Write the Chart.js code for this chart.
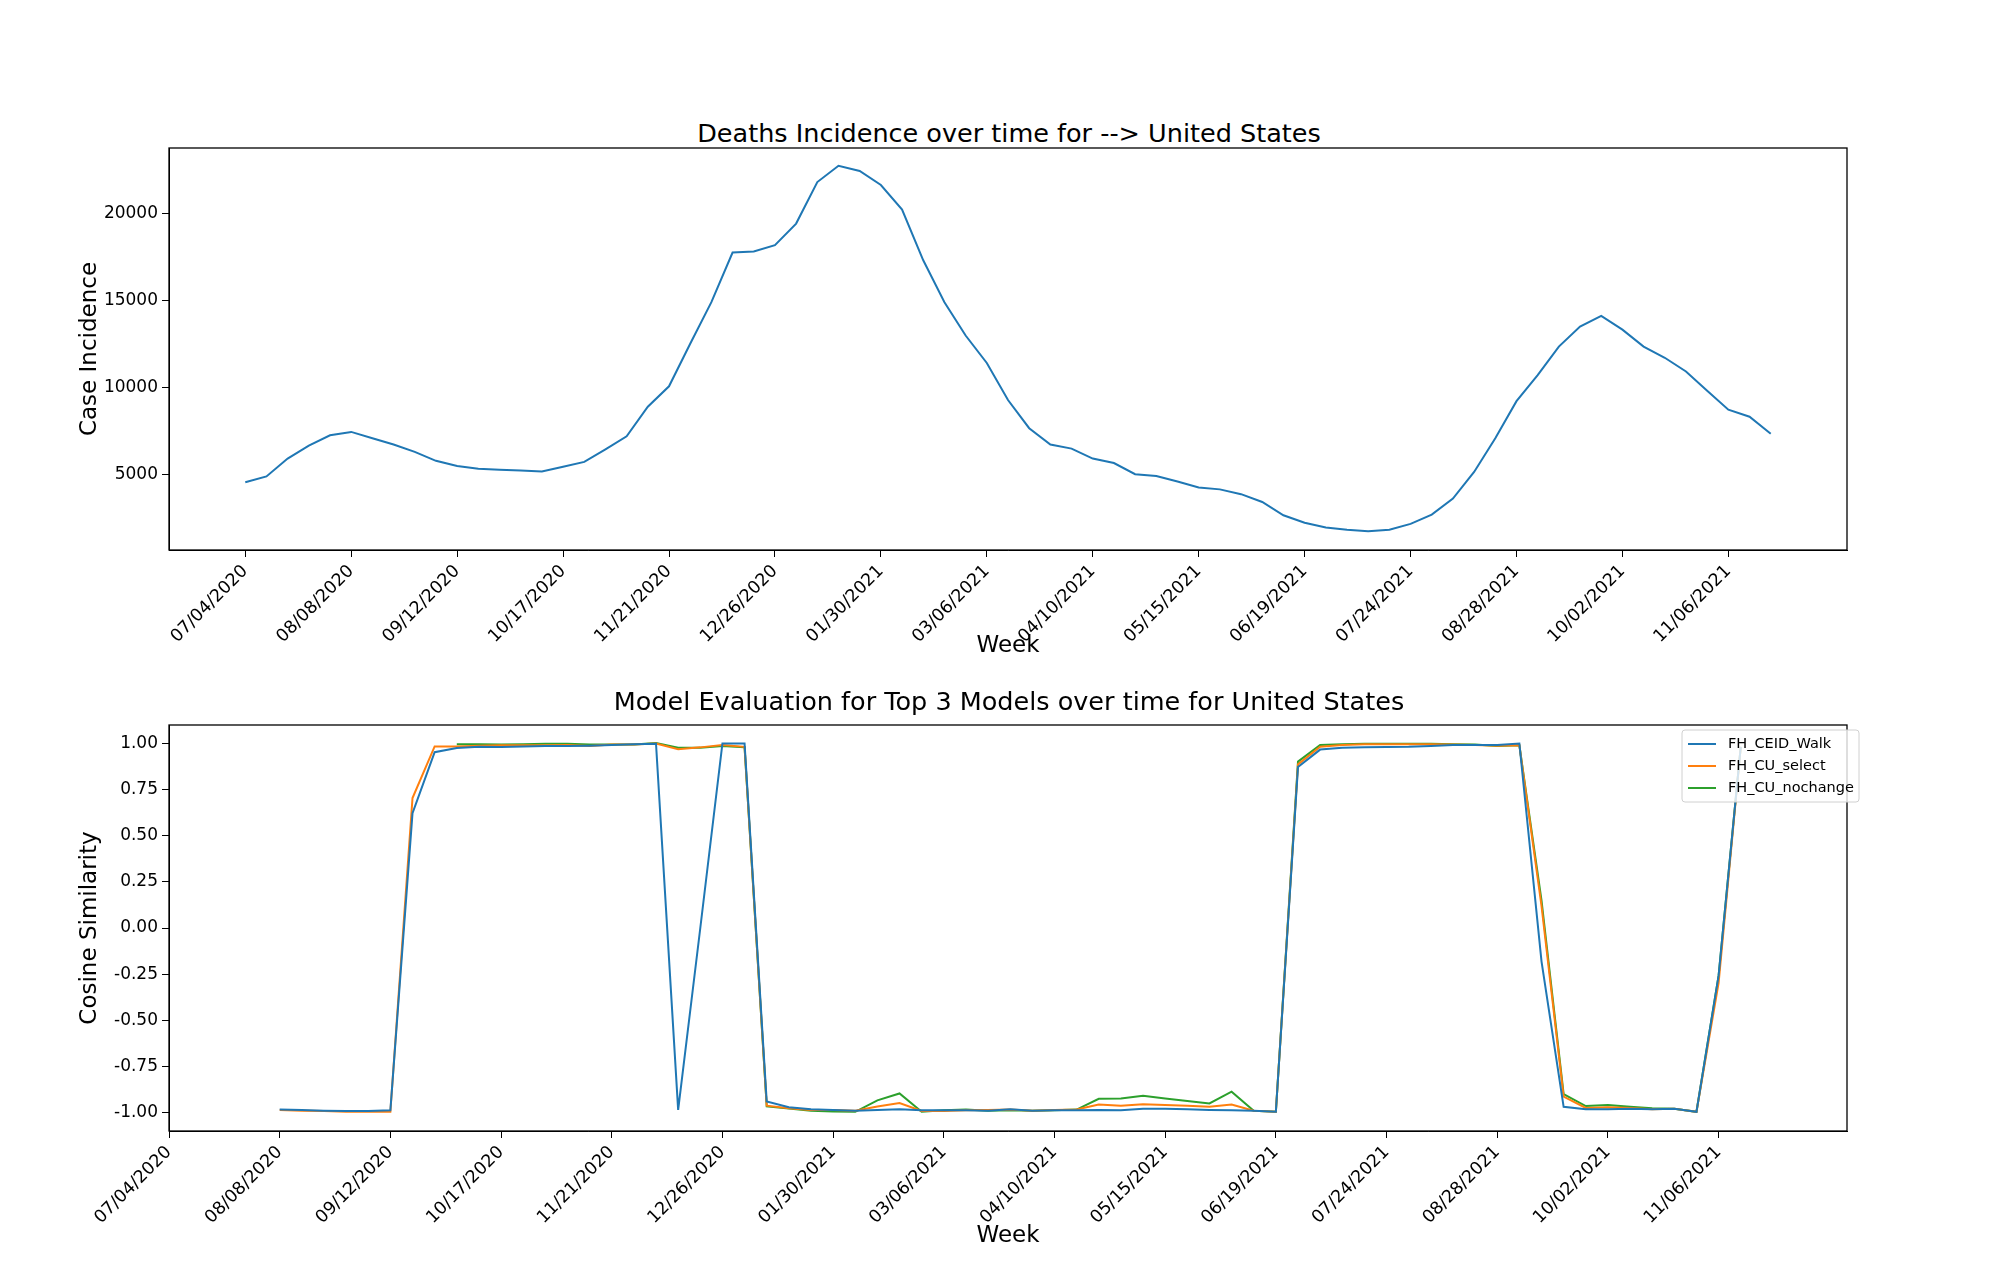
<!DOCTYPE html>
<html>
<head>
<meta charset="utf-8">
<script src="https://cdn.jsdelivr.net/npm/chart.js@4"></script>
<style>
  body { margin: 0; background: #fff; width: 2000px; height: 1280px; position: relative; overflow: hidden; font-family: 'DejaVu Sans', sans-serif; }
  .title { position: absolute; left: 171px; width: 1676px; text-align: center; font-size: 25.5px; color: #000; }
  canvas { position: absolute; left: 0; }
</style>
</head>
<body>
<div class="title" style="top:118px">Deaths Incidence over time for --&gt; United States</div>
<canvas id="deaths" style="top:0" width="2000" height="700"></canvas>
<div class="title" style="top:686px">Model Evaluation for Top 3 Models over time for United States</div>
<canvas id="models" style="top:700px" width="2000" height="580"></canvas>
<script>
// week index 0 = 07/04/2020
const tickWeeks = [0, 5, 10, 15, 20, 25, 30, 35, 40, 45, 50, 55, 60, 65, 70];
const tickLabels = ['07/04/2020', '08/08/2020', '09/12/2020', '10/17/2020', '11/21/2020', '12/26/2020',
  '01/30/2021', '03/06/2021', '04/10/2021', '05/15/2021', '06/19/2021', '07/24/2021', '08/28/2021',
  '10/02/2021', '11/06/2021'];

// weekly deaths, weeks 0..72
const deaths = [4575, 4915, 5936, 6680, 7277, 7468, 7106, 6745, 6319, 5808,
  5510, 5360, 5300, 5250, 5191, 5468, 5745, 6468, 7213, 8915,
  10085, 12532, 14915, 17766, 17830, 18191, 19426, 21809, 22745, 22447,
  21640, 20234, 17320, 14915, 13000, 11426, 9298, 7680, 6745, 6511,
  5936, 5681, 5043, 4936, 4617, 4277, 4170, 3894, 3447, 2681,
  2255, 1979, 1851, 1766, 1851, 2191, 2723, 3638, 5170, 7106,
  9234, 10723, 12362, 13511, 14128, 13340, 12362, 11723, 10936, 9830,
  8745, 8340, 7362];

// model scores, weeks 5..71
const evalStart = 5;
const ceidWalk = [-0.982, -0.984, -0.988, -0.990, -0.990, -0.986, 0.621, 0.951, 0.973, 0.980,
  0.979, 0.982, 0.984, 0.984, 0.986, 0.990, 0.994, 0.996, -0.984, 0.0,
  0.998, 0.998, -0.938, -0.969, -0.980, -0.984, -0.988, -0.984, -0.980, -0.986,
  -0.986, -0.986, -0.988, -0.980, -0.988, -0.986, -0.986, -0.984, -0.986, -0.978,
  -0.978, -0.980, -0.984, -0.986, -0.988, -0.994, 0.871, 0.965, 0.975, 0.977,
  0.979, 0.980, 0.984, 0.990, 0.990, 0.990, 0.998, -0.18, -0.967, -0.980,
  -0.980, -0.977, -0.980, -0.978, -0.994, -0.258, 0.98];
const cuSelect = [-0.985, -0.988, -0.990, -0.994, -0.994, -0.994, 0.703, 0.982, 0.982, 0.986,
  0.988, 0.988, 0.988, 0.990, 0.984, 0.992, 0.992, 0.998, 0.967, 0.977,
  0.990, 0.980, -0.961, -0.975, -0.984, -0.984, -0.988, -0.965, -0.947, -0.990,
  -0.990, -0.986, -0.984, -0.982, -0.988, -0.984, -0.982, -0.955, -0.961, -0.953,
  -0.957, -0.961, -0.967, -0.955, -0.988, -0.994, 0.885, 0.980, 0.990, 0.994,
  0.994, 0.994, 0.994, 0.992, 0.990, 0.986, 0.988, 0.12, -0.912, -0.973,
  -0.969, -0.973, -0.980, -0.978, -0.994, -0.297, 0.98];
const cuNochange = [null, null, null, null, null, null, null, null, 0.994, 0.994,
  0.992, 0.994, 0.996, 0.996, 0.992, 0.992, 0.992, 1.0, 0.975, 0.975,
  0.984, 0.978, -0.965, -0.977, -0.988, -0.992, -0.994, -0.932, -0.895, -0.994,
  -0.986, -0.982, -0.988, -0.986, -0.988, -0.986, -0.982, -0.924, -0.922, -0.908,
  -0.922, -0.936, -0.949, -0.885, -0.988, -0.994, 0.900, 0.990, 0.994, 0.996,
  0.996, 0.996, 0.996, 0.994, 0.992, 0.984, 0.988, 0.15, -0.898, -0.963,
  -0.957, -0.967, -0.975, -0.978, -0.994, -0.258, 0.98];
const seriesNames = ['FH_CEID_Walk', 'FH_CU_select', 'FH_CU_nochange'];
const seriesColors = ['#1f77b4', '#ff7f0e', '#2ca02c'];

const deathTicks = [5000, 10000, 15000, 20000];
const scoreTicks = [-1, -0.75, -0.5, -0.25, 0, 0.25, 0.5, 0.75, 1];

Chart.defaults.font.family = "'DejaVu Sans', sans-serif";
Chart.defaults.color = '#000';

const frame = {
  id: 'frame',
  afterDraw(chart) {
    const { ctx, chartArea: a } = chart;
    ctx.save();
    ctx.strokeStyle = '#000';
    ctx.lineWidth = 1.3;
    ctx.strokeRect(a.left, a.top, a.right - a.left, a.bottom - a.top);
    ctx.restore();
  }
};

const boxLegend = {
  id: 'boxLegend',
  afterDraw(chart) {
    const ctx = chart.ctx;
    const x = 1682, y = 30, w = 177, h = 72;
    ctx.save();
    ctx.fillStyle = 'rgba(255,255,255,0.8)';
    ctx.strokeStyle = '#d0d0d0';
    ctx.lineWidth = 1;
    ctx.beginPath();
    ctx.roundRect(x, y, w, h, 3);
    ctx.fill();
    ctx.stroke();
    ctx.font = "14.5px 'DejaVu Sans', sans-serif";
    ctx.textBaseline = 'middle';
    seriesNames.forEach((n, i) => {
      const ly = y + 14 + i * 22;
      ctx.strokeStyle = seriesColors[i];
      ctx.lineWidth = 2;
      ctx.beginPath();
      ctx.moveTo(x + 6, ly);
      ctx.lineTo(x + 34, ly);
      ctx.stroke();
      ctx.fillStyle = '#000';
      ctx.fillText(n, x + 46, ly);
    });
    ctx.restore();
  }
};

function xAxis(min, max, boxH, padBottom) {
  return {
    type: 'linear', min, max,
    afterBuildTicks: s => { s.ticks = tickWeeks.map(v => ({ value: v })); },
    afterFit: s => { s.height = boxH; },
    ticks: {
      callback: v => tickLabels[tickWeeks.indexOf(v)],
      minRotation: 45, maxRotation: 45, autoSkip: false,
      font: { size: 17.5 }, color: '#000', padding: 4
    },
    grid: { display: true, drawOnChartArea: false, color: '#000', tickLength: 7 },
    border: { display: true, color: '#000' },
    title: { display: true, text: 'Week', font: { size: 23 }, color: '#000', padding: { top: 0, bottom: padBottom } }
  };
}

function yAxis(min, max, ticks, fmt, label) {
  return {
    type: 'linear', min, max,
    afterBuildTicks: s => { s.ticks = ticks.map(v => ({ value: v })); },
    afterFit: s => { s.width = 93; },
    ticks: { callback: fmt, font: { size: 17 }, color: '#000', padding: 4 },
    grid: { display: true, drawOnChartArea: false, color: '#000', tickLength: 7 },
    border: { display: true, color: '#000' },
    title: { display: true, text: label, font: { size: 23 }, color: '#000', padding: { top: 0, bottom: 4 } }
  };
}

new Chart(document.getElementById('deaths'), {
  type: 'line',
  data: {
    datasets: [{
      data: deaths.map((v, i) => ({ x: i, y: v })),
      borderColor: '#1f77b4', borderWidth: 2, pointRadius: 0, tension: 0
    }]
  },
  options: {
    responsive: false, animation: false,
    layout: { padding: { left: 76, right: 153, top: 148, bottom: 0 } },
    plugins: { legend: { display: false }, tooltip: { enabled: false } },
    scales: {
      x: xAxis(-3.6, 75.6, 150, 40),
      y: yAxis(690, 23764, deathTicks, v => String(v), 'Case Incidence')
    }
  },
  plugins: [frame]
});

const evalSets = [ceidWalk, cuSelect, cuNochange];
new Chart(document.getElementById('models'), {
  type: 'line',
  data: {
    datasets: evalSets.map((arr, k) => ({
      label: seriesNames[k],
      data: arr.map((v, i) => ({ x: evalStart + i, y: v })),
      borderColor: seriesColors[k], borderWidth: 2, pointRadius: 0, tension: 0
    }))
  },
  options: {
    responsive: false, animation: false,
    layout: { padding: { left: 76, right: 153, top: 25, bottom: 0 } },
    plugins: { legend: { display: false }, tooltip: { enabled: false } },
    scales: {
      x: xAxis(0, 75.8, 149, 30),
      y: yAxis(-1.098, 1.098, scoreTicks, v => v.toFixed(2), 'Cosine Similarity')
    }
  },
  plugins: [frame, boxLegend]
});
</script>
</body>
</html>
